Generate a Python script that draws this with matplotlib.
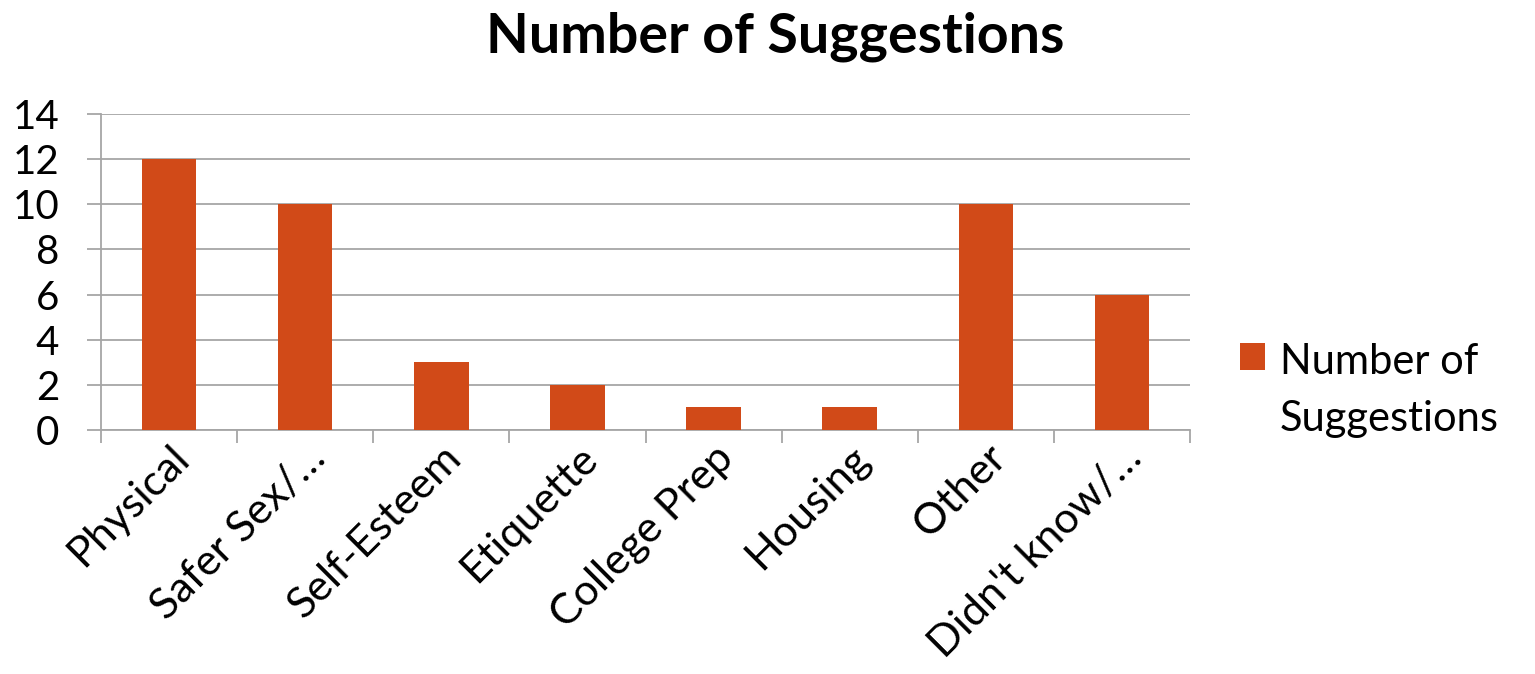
import numpy as np
import matplotlib.pyplot as plt

categories = ["Physical", "Safer Sex/\u2026", "Self-Esteem", "Etiquette",
              "College Prep", "Housing", "Other", "Didn't know/\u2026"]
suggestions = [12, 10, 3, 2, 1, 1, 10, 6]
y_ticks = [0, 2, 4, 6, 8, 10, 12, 14]

plt.rcParams['font.family'] = ['Lato', 'DejaVu Sans']
bar_color = '#D14A18'
grid_color = '#A6A6A6'

fig = plt.figure(figsize=(15.35, 6.74), dpi=100)
ax = fig.add_axes([101 / 1535, 1 - 430 / 674, (1190 - 101) / 1535, (430 - 114) / 674])

x = np.arange(len(categories))
ax.bar(x, suggestions, width=0.4, color=bar_color, label='Number of\nSuggestions', zorder=3)

ax.set_xlim(-0.5, len(categories) - 0.5)
ax.set_ylim(0, 14)
ax.set_yticks(y_ticks)
ax.set_yticklabels([str(v) for v in y_ticks], fontsize=29)
ax.yaxis.grid(True, color=grid_color, linewidth=1.3, zorder=0)
ax.tick_params(axis='y', length=10, width=1.3, color=grid_color, pad=20)

# category boundaries get the tick marks, labels sit at centres
ax.set_xticks(np.arange(len(categories) + 1) - 0.5)
ax.set_xticklabels([])
ax.tick_params(axis='x', which='major', length=9, width=1.3, color=grid_color)
ax.set_xticks(x, minor=True)
ax.set_xticklabels(categories, minor=True, fontsize=31, rotation=45,
                   ha='right', va='top', rotation_mode='anchor')
ax.tick_params(axis='x', which='minor', length=0, pad=6)

for side in ['top', 'right']:
    ax.spines[side].set_visible(False)
for side in ['left', 'bottom']:
    ax.spines[side].set_color(grid_color)
    ax.spines[side].set_linewidth(1.3)

fig.text(775 / 1535, 1 - 37 / 674, 'Number of Suggestions', fontsize=40,
         fontweight='bold', ha='center', va='center')

leg = ax.legend(loc='upper left', bbox_to_anchor=(1.046, 0.275), frameon=False,
                borderpad=0, borderaxespad=0,
                fontsize=30, handlelength=0.6, handleheight=0.6, handletextpad=0.35)
for t in leg.get_texts():
    t.set_linespacing(1.6)
# put the square next to the first line of the label
for col in leg._legend_handle_box.get_children():
    for row in col.get_children():
        row.align = 'top'

fig.savefig('out.png', dpi=100)
